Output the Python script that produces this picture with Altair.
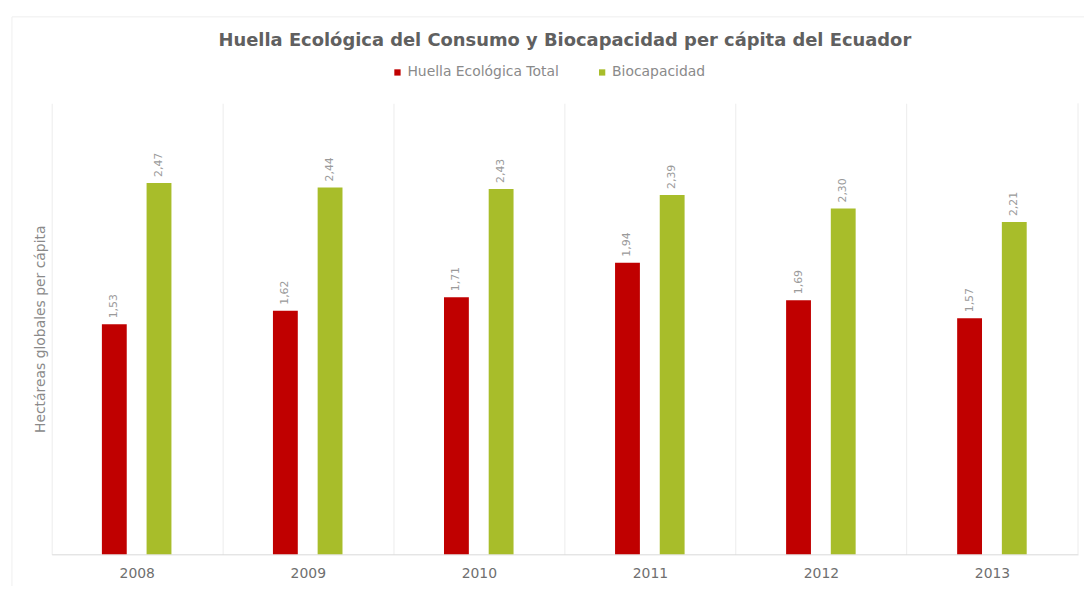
import altair as alt
import pandas as pd

years = ["2008", "2009", "2010", "2011", "2012", "2013"]
huella = [1.53, 1.62, 1.71, 1.94, 1.69, 1.57]
biocap = [2.47, 2.44, 2.43, 2.39, 2.30, 2.21]
series = ["Huella Ecológica Total", "Biocapacidad"]
colors = ["#c00000", "#a8bd2a"]

rows = []
for i, y in enumerate(years):
    rows.append({"year": y, "serie": series[0], "valor": huella[i], "lbl": f"{huella[i]:.2f}".replace(".", ",")})
    rows.append({"year": y, "serie": series[1], "valor": biocap[i], "lbl": f"{biocap[i]:.2f}".replace(".", ",")})
df = pd.DataFrame(rows)

FONT = "DejaVu Sans"
W, H = 1033, 454

x_enc = alt.X("year:N", sort=years,
              scale=alt.Scale(paddingInner=0, paddingOuter=0),
              axis=alt.Axis(title=None, labelAngle=0, ticks=False, labelPadding=12,
                            labelFontSize=14, labelColor="#6f6f6f", labelFont=FONT,
                            domainColor="#d9d9d9", grid=True, gridColor="#ececec",
                            bandPosition=0))
xo_scale = alt.Scale(range=[50.5, 120.5], paddingInner=0.444, paddingOuter=0)
y_enc = alt.Y("valor:Q", scale=alt.Scale(domain=[0, 3]),
              axis=alt.Axis(title="Hectáreas globales per cápita", labels=False, ticks=False,
                            domain=False, grid=False, titleFontSize=14,
                            titleFontWeight="normal", titleColor="#8a8a8a",
                            titleFont=FONT, titlePadding=4))

bars = alt.Chart(df).mark_bar().encode(
    x=x_enc, xOffset=alt.XOffset("serie:N", sort=series, scale=xo_scale), y=y_enc,
    color=alt.Color("serie:N", sort=series,
                    scale=alt.Scale(domain=series, range=colors),
                    legend=alt.Legend(title=None, orient="none", direction="horizontal",
                                      legendX=341, legendY=-38, symbolType="square",
                                      symbolSize=40, labelFontSize=14, labelColor="#8a8a8a",
                                      labelFont=FONT, columnPadding=36, labelOffset=3)),
)

labels = alt.Chart(df).mark_text(angle=270, align="left", baseline="middle", dx=6,
                                 fontSize=11, color="#9a9a9a", font=FONT).encode(
    x=alt.X("year:N", sort=years), xOffset=alt.XOffset("serie:N", sort=series),
    y="valor:Q", text="lbl:N")

edge = alt.Chart(pd.DataFrame({"a": [0]})).mark_rule(color="#ececec").encode(
    x=alt.value(W), y=alt.value(0), y2=alt.value(H))

frame_left = alt.Chart(pd.DataFrame({"a": [0]})).mark_rule(color="#efefef").encode(
    x=alt.value(-40), y=alt.value(-87), y2=alt.value(489))
frame_top = alt.Chart(pd.DataFrame({"a": [0]})).mark_rule(color="#efefef").encode(
    x=alt.value(-40), x2=alt.value(1040), y=alt.value(-87))

chart = alt.layer(frame_left, frame_top, bars, labels, edge).properties(
    width=W, height=H,
    title=alt.TitleParams("Huella Ecológica del Consumo y Biocapacidad per cápita del Ecuador",
                          fontSize=18, fontWeight="bold", color="#606060", font=FONT,
                          anchor="middle", offset=-34),
    padding={"left": 44, "top": 94, "right": 6, "bottom": 30},
    autosize=alt.AutoSizeParams(type="none"),
).configure_view(stroke=None)

chart.save("out.html", embed_options={"renderer": "svg", "actions": False})
